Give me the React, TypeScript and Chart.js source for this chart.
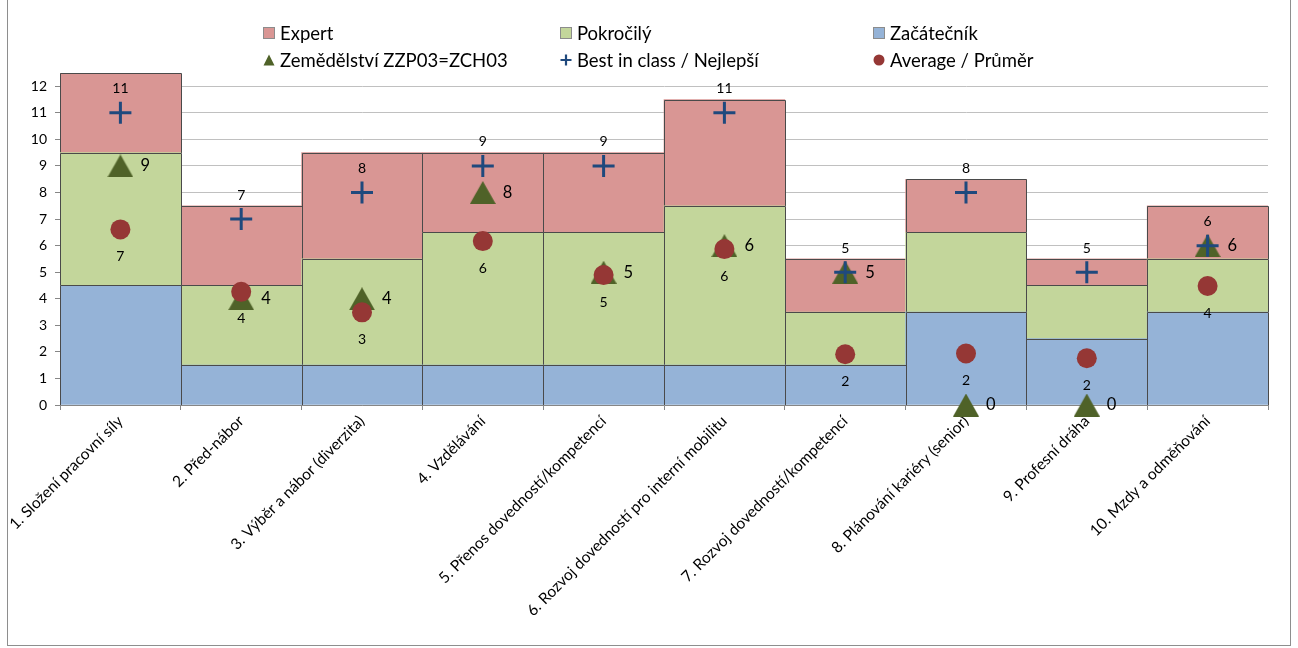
import React, { useEffect, useRef } from "react";
import { Chart, registerables } from "chart.js";
Chart.register(...registerables);

const FONT = "Lato, 'Open Sans', sans-serif";

const categories = [
  "1. Složení pracovní síly",
  "2. Před-nábor",
  "3. Výběr a nábor (diverzita)",
  "4. Vzdělávání",
  "5. Přenos dovedností/kompetencí",
  "6. Rozvoj dovedností pro interní mobilitu",
  "7. Rozvoj dovedností/kompetencí",
  "8. Plánování kariéry (senior)",
  "9. Profesní dráha",
  "10. Mzdy a odměňování",
];
const beginner = [4.5, 1.5, 1.5, 1.5, 1.5, 1.5, 1.5, 3.5, 2.5, 3.5];
const advanced = [5, 3, 4, 5, 5, 6, 2, 3, 2, 2];
const expert = [3, 3, 4, 3, 3, 4, 2, 2, 1, 2];
const sector = [9, 4, 4, 8, 5, 6, 5, 0, 0, 6];
const best = [11, 7, 8, 9, 9, 11, 5, 8, 5, 6];
const average = [6.61, 4.26, 3.49, 6.17, 4.89, 5.87, 1.91, 1.94, 1.76, 4.48];
const yTicks = [0, 1, 2, 3, 4, 5, 6, 7, 8, 9, 10, 11, 12];

const C_BLUE = "#95b3d7";
const C_GREEN = "#c3d69b";
const C_RED = "#d99694";
const C_TRI = "#4f6228";
const C_PLUS = "#1f497d";
const C_DOT = "#953735";

function makeTriangle(w: number, h: number, color: string) {
  const c = document.createElement("canvas");
  c.width = w;
  c.height = h;
  const ctx = c.getContext("2d")!;
  ctx.fillStyle = color;
  ctx.beginPath();
  ctx.moveTo(w / 2, 0);
  ctx.lineTo(w, h);
  ctx.lineTo(0, h);
  ctx.closePath();
  ctx.fill();
  return c;
}

const outlinePlugin = {
  id: "barOutline",
  afterDatasetDraw(chart: any, args: any) {
    const ds = chart.data.datasets[args.index];
    if (ds.type !== "bar") return;
    const ctx = chart.ctx;
    ctx.save();
    ctx.strokeStyle = "#4a4a4a";
    ctx.lineWidth = 1;
    args.meta.data.forEach((el: any) => {
      const { x, y, base, width } = el.getProps(["x", "y", "base", "width"], true);
      const l = Math.round(x - width / 2) + 0.5;
      const r = Math.round(x + width / 2) + 0.5;
      const t = Math.round(y) + 0.5;
      const b = Math.round(base);
      ctx.beginPath();
      ctx.moveTo(l, b);
      ctx.lineTo(l, t);
      ctx.lineTo(r, t);
      ctx.lineTo(r, b);
      ctx.stroke();
    });
    ctx.restore();
  },
};

const labelPlugin = {
  id: "pointLabels",
  afterDatasetsDraw(chart: any) {
    const ctx = chart.ctx;
    ctx.save();
    ctx.fillStyle = "#000";
    ctx.textBaseline = "middle";
    const draw = (idx: number, vals: number[], dx: number, dy: number, font: string, align: CanvasTextAlign) => {
      const meta = chart.getDatasetMeta(idx);
      ctx.font = font;
      ctx.textAlign = align;
      meta.data.forEach((el: any, i: number) => {
        ctx.fillText(String(Math.round(vals[i])), el.x + dx, el.y + dy);
      });
    };
    draw(3, sector, 20, 0, `16.5px ${FONT}`, "left");
    draw(4, best, 0, -24, `14px ${FONT}`, "center");
    draw(5, average, 0, 27, `14px ${FONT}`, "center");
    ctx.restore();
  },
};

function LegendItem({ x, y, marker, text }: { x: number; y: number; marker: React.ReactNode; text: string }) {
  return (
    <div style={{ position: "absolute", left: x, top: y - 12, height: 24, display: "flex", alignItems: "center", whiteSpace: "nowrap" }}>
      <span style={{ width: 14, height: 14, display: "inline-block", marginRight: 4 }}>{marker}</span>
      <span style={{ fontFamily: FONT, fontSize: 18.5, color: "#000" }}>{text}</span>
    </div>
  );
}

const sq = (c: string) => (
  <svg width="14" height="14"><rect x="1.5" y="1.5" width="11" height="11" fill={c} stroke="#8c8c8c" strokeWidth="1" /></svg>
);
const tri = (
  <svg width="14" height="14"><polygon points="7,1.5 12.5,12.5 1.5,12.5" fill={C_TRI} /></svg>
);
const plus = (
  <svg width="14" height="14"><path d="M7 1.5 V12.5 M1.5 7 H12.5" stroke={C_PLUS} strokeWidth="2.2" /></svg>
);
const dot = (
  <svg width="14" height="14"><circle cx="7" cy="7" r="5.5" fill={C_DOT} /></svg>
);

export default function App() {
  const ref = useRef<HTMLCanvasElement>(null);
  useEffect(() => {
    if (!ref.current) return;
    const triImg = makeTriangle(26, 23, C_TRI);
    const chart = new Chart(ref.current, {
      type: "bar",
      data: {
        labels: categories,
        datasets: [
          { type: "bar", label: "Začátečník", data: beginner, backgroundColor: C_BLUE, stack: "bars", order: 10, borderWidth: 0, categoryPercentage: 1, barPercentage: 1 } as any,
          { type: "bar", label: "Pokročilý", data: advanced, backgroundColor: C_GREEN, stack: "bars", order: 10, borderWidth: 0, categoryPercentage: 1, barPercentage: 1 } as any,
          { type: "bar", label: "Expert", data: expert, backgroundColor: C_RED, stack: "bars", order: 10, borderWidth: 0, categoryPercentage: 1, barPercentage: 1 } as any,
          { type: "line", label: "Zemědělství ZZP03=ZCH03", data: sector, showLine: false, clip: false, stack: "s1", order: 3, pointStyle: triImg, pointRadius: 12, pointBackgroundColor: C_TRI, pointBorderWidth: 0 } as any,
          { type: "line", label: "Best in class / Nejlepší", data: best, showLine: false, clip: false, stack: "s2", order: 2, pointStyle: "cross", pointRadius: 11, pointBorderColor: C_PLUS, pointBorderWidth: 3 } as any,
          { type: "line", label: "Average / Průměr", data: average, showLine: false, clip: false, stack: "s3", order: 1, pointStyle: "circle", pointRadius: 10, pointBackgroundColor: C_DOT, pointBorderColor: C_DOT, pointBorderWidth: 0 } as any,
        ],
      },
      options: {
        responsive: false,
        animation: false,
        layout: { padding: { left: 15, right: 30, top: 73, bottom: 0 } },
        plugins: { legend: { display: false }, tooltip: { enabled: false } },
        scales: {
          x: {
            stacked: true,
            offset: true,
            grid: { display: true, offset: true, drawOnChartArea: false, drawTicks: true, tickLength: 5, color: "#868686" },
            border: { display: true, color: "#868686" },
            ticks: { font: { family: FONT, size: 15.5 }, color: "#000", minRotation: 45, maxRotation: 45, autoSkip: false, padding: 2 },
            afterFit: (s: any) => { s.height = 243; },
          },
          y: {
            stacked: true,
            min: 0,
            max: 12.5,
            ticks: { stepSize: 1, font: { family: FONT, size: 14 }, color: "#000", padding: 8 },
            afterBuildTicks: (s: any) => { s.ticks = yTicks.map((v) => ({ value: v })); },
            grid: { color: "#c0c0c0", tickLength: 5, drawTicks: true, tickColor: "#868686" },
            border: { display: true, color: "#868686" },
            afterFit: (s: any) => { s.width = 45; },
          },
        },
      },
      plugins: [outlinePlugin, labelPlugin],
    });
    return () => chart.destroy();
  }, []);

  return (
    <div style={{ position: "absolute", left: 0, top: 0, width: 1298, height: 648, background: "#fff" }}>
      <canvas ref={ref} width={1298} height={648} style={{ position: "absolute", left: 0, top: 0 }} />
      <div style={{ position: "absolute", left: 7, top: -1, width: 1282, height: 645, border: "1px solid #8e8e8e", pointerEvents: "none" }} />
      <LegendItem x={262} y={33} marker={sq(C_RED)} text="Expert" />
      <LegendItem x={559} y={33} marker={sq(C_GREEN)} text="Pokročilý" />
      <LegendItem x={872} y={33} marker={sq(C_BLUE)} text="Začátečník" />
      <LegendItem x={262} y={60} marker={tri} text="Zemědělství ZZP03=ZCH03" />
      <LegendItem x={559} y={60} marker={plus} text="Best in class / Nejlepší" />
      <LegendItem x={872} y={60} marker={dot} text="Average / Průměr" />
    </div>
  );
}
